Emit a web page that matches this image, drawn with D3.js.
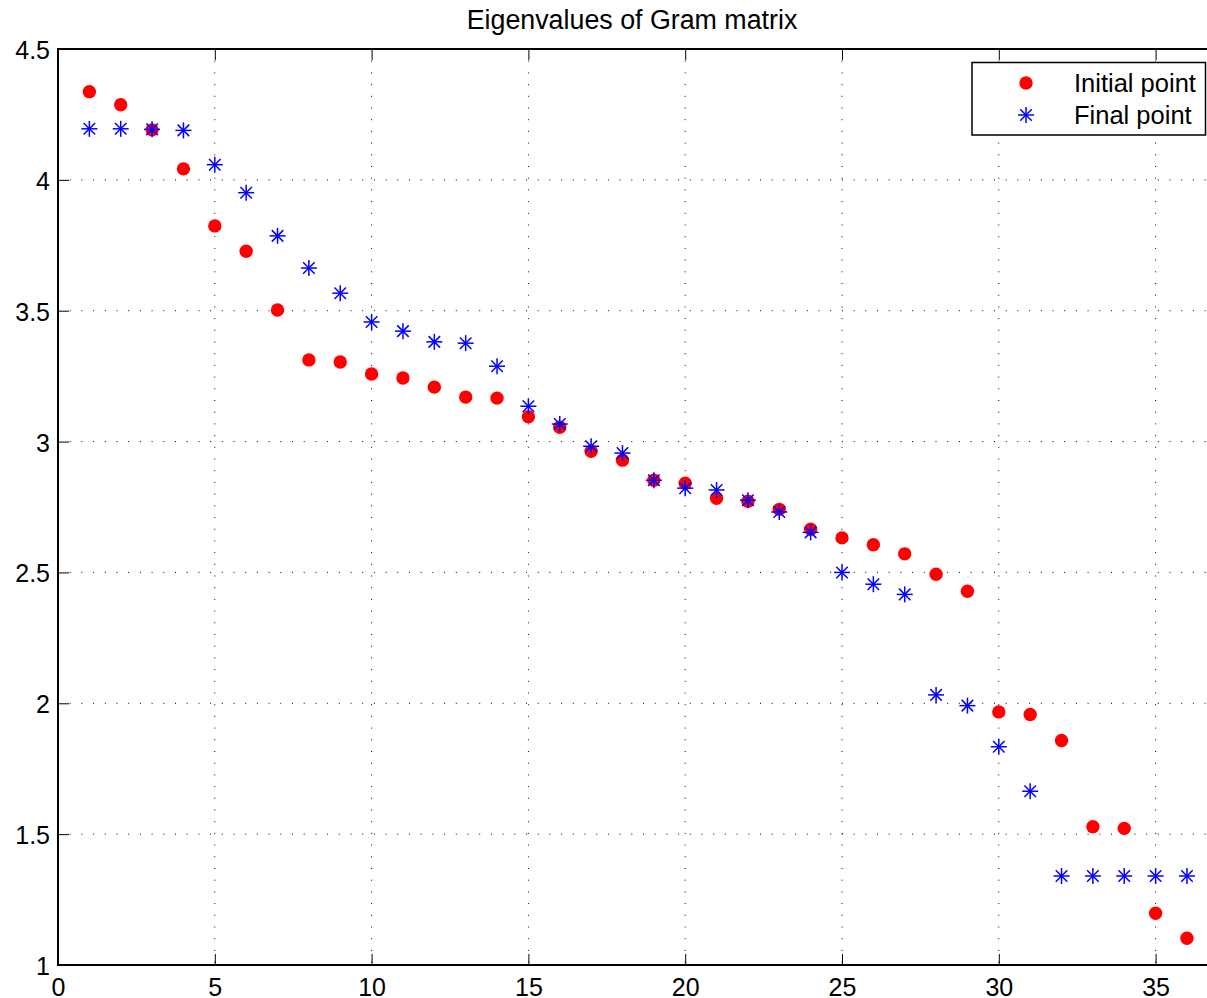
<!DOCTYPE html>
<html lang="en">
<head>
  <meta charset="UTF-8">
  <title>Eigenvalues of Gram matrix</title>
  <script src="https://d3js.org/d3.v7.min.js"></script>
  <style>
    body { margin: 0; background: #fff; }
    svg { display: block; font-family: "Liberation Sans", Arial, sans-serif; }
    .grid line { stroke: #000; stroke-width: 1; stroke-dasharray: 1,10.7; }
  </style>
</head>
<body>
  <svg width="1207" height="998"></svg>
  <script>
// data
const index = d3.range(1, 37);
const initialPoint = [4.337, 4.287, 4.191, 4.042, 3.824, 3.727, 3.503, 3.312, 3.304, 3.258,
  3.243, 3.208, 3.170, 3.166, 3.095, 3.055, 2.963, 2.929, 2.852, 2.841,
  2.783, 2.772, 2.741, 2.665, 2.632, 2.606, 2.571, 2.493, 2.428, 1.967,
  1.957, 1.858, 1.528, 1.522, 1.198, 1.102];
const finalPoint = [4.195, 4.195, 4.193, 4.189, 4.058, 3.951, 3.786, 3.663, 3.567, 3.457,
  3.422, 3.381, 3.376, 3.288, 3.135, 3.067, 2.982, 2.956, 2.852, 2.822,
  2.815, 2.776, 2.731, 2.653, 2.500, 2.455, 2.416, 2.032, 1.991, 1.834,
  1.664, 1.340, 1.340, 1.340, 1.340, 1.340];
const xTicks = [0, 5, 10, 15, 20, 25, 30, 35];
const yTicks = [1, 1.5, 2, 2.5, 3, 3.5, 4, 4.5];

const svg = d3.select("svg");
const plotLeft = 58, plotTop = 49, plotBottom = 965;

const x = d3.scaleLinear().domain([0, 37]).range([plotLeft, plotLeft + 37 * 31.36]);
const y = d3.scaleLinear().domain([1, 4.5]).range([plotBottom, plotTop]);
const plotRight = x(37);

// grid
const grid = svg.append("g").attr("class", "grid");
grid.selectAll(".gx").data(xTicks.slice(1)).enter().append("line")
  .attr("x1", d => x(d)).attr("x2", d => x(d))
  .attr("y1", plotTop).attr("y2", plotBottom);
grid.selectAll(".gy").data(yTicks.slice(1, -1)).enter().append("line")
  .attr("x1", plotLeft).attr("x2", plotRight)
  .attr("y1", d => y(d)).attr("y2", d => y(d));

// axes (ticks pointing inward, box style)
const tickLen = 11;
const font = "25px";
svg.append("g").attr("transform", `translate(0,${plotBottom})`)
  .call(d3.axisBottom(x).tickValues(xTicks).tickSizeInner(-tickLen).tickSizeOuter(0).tickPadding(13))
  .call(g => g.select(".domain").remove())
  .call(g => g.selectAll("text").attr("font-size", font).attr("fill", "#000").attr("font-family", null))
  .call(g => g.selectAll("line").attr("stroke", "#000"));
svg.append("g").attr("transform", `translate(0,${plotTop})`)
  .call(d3.axisTop(x).tickValues(xTicks).tickSizeInner(-tickLen).tickSizeOuter(0).tickFormat(""))
  .call(g => g.select(".domain").remove())
  .call(g => g.selectAll("line").attr("stroke", "#000"));
svg.append("g").attr("transform", `translate(${plotLeft},0)`)
  .call(d3.axisLeft(y).tickValues(yTicks).tickSizeInner(-tickLen).tickSizeOuter(0).tickPadding(8).tickFormat(d3.format("")))
  .call(g => g.select(".domain").remove())
  .call(g => g.selectAll("text").attr("font-size", font).attr("fill", "#000").attr("font-family", null).attr("dy", "0.38em"))
  .call(g => g.selectAll("line").attr("stroke", "#000"));

// box
svg.append("rect")
  .attr("x", plotLeft).attr("y", plotTop)
  .attr("width", plotRight - plotLeft).attr("height", plotBottom - plotTop)
  .attr("fill", "none").attr("stroke", "#000").attr("stroke-width", 2);

// markers
const asterisk = (g, r) => {
  const d = r * 0.72;
  g.append("line").attr("x1", -r).attr("x2", r).attr("y1", 0).attr("y2", 0);
  g.append("line").attr("x1", 0).attr("x2", 0).attr("y1", -r).attr("y2", r);
  g.append("line").attr("x1", -d).attr("x2", d).attr("y1", -d).attr("y2", d);
  g.append("line").attr("x1", -d).attr("x2", d).attr("y1", d).attr("y2", -d);
};

svg.append("g").selectAll("circle")
  .data(index).enter().append("circle")
  .attr("cx", d => x(d))
  .attr("cy", (d, i) => y(initialPoint[i]))
  .attr("r", 6.7)
  .attr("fill", "#ff0000");

svg.append("g").attr("stroke", "#0000ff").attr("stroke-width", 1.5)
  .selectAll("g")
  .data(index).enter().append("g")
  .attr("transform", (d, i) => `translate(${x(d)},${y(finalPoint[i])})`)
  .each(function() { asterisk(d3.select(this), 8); });

// title
svg.append("text")
  .attr("x", 632).attr("y", 28.5)
  .attr("text-anchor", "middle")
  .attr("font-size", "26.8px")
  .text("Eigenvalues of Gram matrix");

// legend
const legend = svg.append("g");
legend.append("rect")
  .attr("x", 972).attr("y", 62.5)
  .attr("width", 233.5).attr("height", 72.5)
  .attr("fill", "#fff").attr("stroke", "#000").attr("stroke-width", 1.5);
legend.append("circle").attr("cx", 1026).attr("cy", 83).attr("r", 6.7).attr("fill", "#ff0000");
legend.append("g").attr("stroke", "#0000ff").attr("stroke-width", 1.5)
  .attr("transform", "translate(1026,115)")
  .call(g => asterisk(g, 8));
legend.append("text").attr("x", 1074).attr("y", 92).attr("font-size", "25.5px").text("Initial point");
legend.append("text").attr("x", 1074).attr("y", 124).attr("font-size", "25.5px").text("Final point");
  </script>
</body>
</html>
